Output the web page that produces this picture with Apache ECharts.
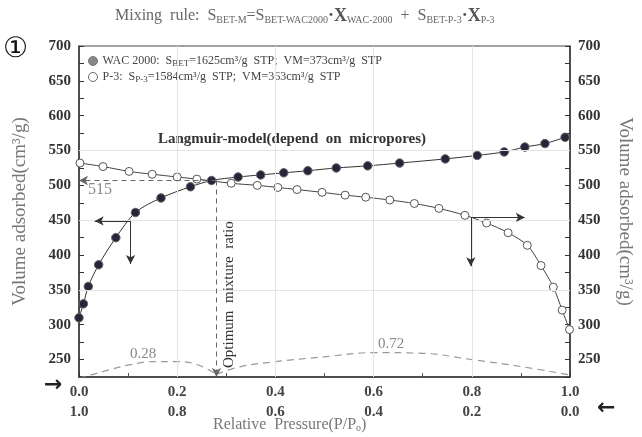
<!DOCTYPE html>
<html><head><meta charset="utf-8">
<script src="https://cdn.jsdelivr.net/npm/echarts@6/dist/echarts.min.js"></script>
<style>html,body{margin:0;padding:0;background:#fff}#c{width:642px;height:437px}</style>
</head><body><div id="c"></div>
<script>
// ---- data ----
const wacX = [0.0, 0.009, 0.019, 0.04, 0.075, 0.115, 0.167, 0.227, 0.27, 0.324, 0.37, 0.417, 0.466, 0.524, 0.588, 0.653, 0.746, 0.811, 0.866, 0.908, 0.949, 0.99];
const wacY = [310, 330, 355, 386, 425, 461, 482, 498, 507, 512, 515, 518, 521, 525, 528, 532, 538, 543, 548, 555, 560, 569];
const p3X = [0.002, 0.049, 0.102, 0.149, 0.2, 0.24, 0.31, 0.363, 0.405, 0.444, 0.495, 0.542, 0.584, 0.633, 0.683, 0.733, 0.786, 0.83, 0.874, 0.913, 0.941, 0.966, 0.984, 0.999];
const p3Y = [532, 527, 520, 516, 512, 509, 503, 500, 497, 494, 490, 486, 483, 479, 474, 467, 457, 446, 432, 414, 385, 354, 321, 293];
const mixLeftX = [0, 0.05, 0.1, 0.15, 0.2, 0.24, 0.28];
const mixLeftY = [223, 233, 242, 247, 247, 243, 229];
const mixRightX = [0.28, 0.33, 0.4, 0.5, 0.6, 0.7, 0.8, 0.9, 1.0];
const mixRightY = [229, 240, 247, 254, 260, 259, 250, 240, 228];
const xTopLabels = ['0.0', '0.2', '0.4', '0.6', '0.8', '1.0'];
const xBottomLabels = ['1.0', '0.8', '0.6', '0.4', '0.2', '0.0'];
const yTickLabels = [250, 300, 350, 400, 450, 500, 550, 600, 650, 700];
const optimum = [0.28, 507];
const leftArrowH = [[0.105, 449], [0.032, 449]];
const leftArrowV = [[0.105, 449], [0.105, 387]];
const rightArrowH = [[0.798, 454], [0.908, 454]];
const rightArrowV = [[0.798, 454], [0.798, 384]];
const gridY = [550, 450, 350];
const gridX = [0.2, 0.4, 0.6, 0.8];

// ---- chart ----
const serif = '"Liberation Serif", "DejaVu Serif", serif';
const zip = (xs, ys) => xs.map((x, i) => [x, ys[i]]);
const chart = echarts.init(document.getElementById('c'), null, {renderer: 'canvas'});
const tickLbl = v => (yTickLabels.indexOf(v) >= 0 ? String(v) : '');
const yAxisBase = {
  type: 'value', min: 225, max: 700, interval: 25,
  axisLine: {show: true, lineStyle: {color: '#333', width: 1.5}},
  axisTick: {show: true, inside: true, length: 5, lineStyle: {color: '#333'}},
  splitLine: {show: false},
  axisLabel: {formatter: tickLbl, fontFamily: serif, fontWeight: 'bold', fontSize: 15, color: '#333', margin: 8},
  nameLocation: 'middle', nameGap: 48,
  nameTextStyle: {fontFamily: serif, fontSize: 19, color: '#777'}
};
const sub = {fontSize: 9, fontFamily: serif, color: '#444', verticalAlign: 'bottom', padding: [5, 0, 0, 0]};
chart.setOption({
  animation: false,
  grid: {left: 79, right: 69, top: 46, bottom: 60, show: true, borderColor: '#444', borderWidth: 1},
  legend: {
    orient: 'vertical', left: 83, top: 50, itemGap: 3, itemWidth: 9, itemHeight: 9,
    data: [
      {name: 'WAC 2000', icon: 'circle', itemStyle: {color: '#888', borderColor: '#777', borderWidth: 1}},
      {name: 'P-3', icon: 'circle', itemStyle: {color: '#fff', borderColor: '#666', borderWidth: 1}}
    ],
    formatter: n => n === 'WAC 2000'
      ? '{t|WAC 2000:  S}{s|BET}{t|=1625cm³/g  STP;  VM=373cm³/g  STP}'
      : '{t|P-3:  S}{s|P-3}{t|=1584cm³/g  STP;  VM=363cm³/g  STP}',
    textStyle: {rich: {t: {fontFamily: serif, fontSize: 12, color: '#444'}, s: sub}}
  },
  xAxis: {
    type: 'value', min: 0, max: 1, interval: 0.2,
    axisLine: {show: true, lineStyle: {color: '#333', width: 1.5}},
    axisTick: {show: true, inside: true, length: 5, lineStyle: {color: '#333'}},
    minorTick: {show: true, splitNumber: 2, length: 4, lineStyle: {color: '#555'}},
    splitLine: {show: false},
    axisLabel: {
      formatter: v => { const i = Math.round(v / 0.2); return xTopLabels[i] + '\n' + xBottomLabels[i]; },
      fontFamily: serif, fontWeight: 'bold', fontSize: 15, color: '#444', lineHeight: 20, margin: 5
    }
  },
  yAxis: [
    Object.assign({}, yAxisBase, {position: 'left', name: 'Volume adsorbed(cm³/g)', nameGap: 49}),
    Object.assign({}, yAxisBase, {position: 'right', name: 'Volume adsorbed(cm³/g)', nameRotate: -90, nameGap: 45})
  ],
  series: [
    {
      name: 'grid', type: 'line', data: [], silent: true,
      markLine: {silent: true, symbol: 'none', label: {show: false},
        lineStyle: {color: '#e4e4e4', type: 'solid', width: 1},
        data: gridY.map(v => ({yAxis: v})).concat(gridX.map(v => ({xAxis: v})))}
    },
    {
      name: 'mixA', type: 'line', data: zip(mixLeftX, mixLeftY), smooth: 0.4, symbol: 'none',
      lineStyle: {color: '#999', width: 1.2, type: [7, 5]}, z: 2
    },
    {
      name: 'mixB', type: 'line', data: zip(mixRightX, mixRightY), smooth: 0.4, symbol: 'none',
      lineStyle: {color: '#999', width: 1.2, type: [7, 5]}, z: 2
    },
    {
      name: 'P-3', type: 'line', data: zip(p3X, p3Y), smooth: 0.3,
      symbol: 'circle', symbolSize: 8,
      itemStyle: {color: '#fff', borderColor: '#555', borderWidth: 1},
      lineStyle: {color: '#444', width: 1}, z: 3,
      markLine: {silent: true, symbol: ['none', 'arrow'], symbolSize: [7, 9], label: {show: false},
        lineStyle: {color: '#333', width: 1, type: 'solid'},
        data: [
          [{coord: rightArrowH[0]}, {coord: rightArrowH[1]}],
          [{coord: rightArrowV[0]}, {coord: rightArrowV[1]}],
          [{coord: leftArrowH[0]}, {coord: leftArrowH[1]}],
          [{coord: leftArrowV[0]}, {coord: leftArrowV[1]}]
        ]}
    },
    {
      name: 'WAC 2000', type: 'line', data: zip(wacX, wacY), smooth: 0.3,
      symbol: 'circle', symbolSize: 8.5,
      itemStyle: {color: '#26263a', borderColor: '#666', borderWidth: 1},
      lineStyle: {color: '#333', width: 1}, z: 4,
      markLine: {silent: true, symbol: ['none', 'arrow'], symbolSize: [7, 9], label: {show: false},
        lineStyle: {color: '#666', width: 1, type: [5, 4]},
        data: [
          [{coord: optimum}, {coord: [0, optimum[1]]}],
          [{coord: optimum}, {coord: [optimum[0], 225]}]
        ]}
    }
  ],
  graphic: [
    {type: 'text', left: 115, top: 7, style: {
      text: 'Mixing  rule:  S{s|BET-M}=S{s|BET-WAC2000}{b|·X}{s|WAC-2000}  +  S{s|BET-P-3}{b|·X}{s|P-3}',
      font: '16px ' + serif, fill: '#666',
      rich: {s: {fontSize: 10, fontFamily: serif, fill: '#666', verticalAlign: 'bottom', padding: [6, 0, 0, 0]},
             b: {fontSize: 18, fontFamily: serif, fontWeight: 'bold', fill: '#555'}}
    }},
    {type: 'text', left: 3, top: 36, style: {text: '①', font: '28px "DejaVu Sans", "Noto Sans CJK SC", sans-serif', fill: '#111'}},
    {type: 'text', left: 158, top: 132, style: {text: 'Langmuir-model(depend  on  micropores)', font: 'bold 15px ' + serif, fill: '#333'}},
    {type: 'text', left: 88, top: 182, style: {text: '515', font: '16px ' + serif, fill: '#888'}},
    {type: 'text', left: 130, top: 347, style: {text: '0.28', font: '15px ' + serif, fill: '#888'}},
    {type: 'text', left: 378, top: 337, style: {text: '0.72', font: '15px ' + serif, fill: '#888'}},
    {type: 'text', x: 222, y: 368, rotation: Math.PI / 2, style: {text: 'Optimum  mixture  ratio', font: '15px ' + serif, fill: '#333', align: 'left', verticalAlign: 'top'}},
    {type: 'text', left: 44, top: 374, style: {text: '→', font: 'bold 22px "DejaVu Sans", sans-serif', fill: '#222'}},
    {type: 'text', left: 597, top: 397, style: {text: '←', font: 'bold 22px "DejaVu Sans", sans-serif', fill: '#222'}},
    {type: 'text', left: 213, top: 417, style: {text: 'Relative  Pressure(P/P{s|o})', font: '16px ' + serif, fill: '#777',
      rich: {s: {fontSize: 10, fontFamily: serif, fill: '#777', verticalAlign: 'bottom', padding: [6, 0, 0, 0]}}}}
  ]
});
</script></body></html>
